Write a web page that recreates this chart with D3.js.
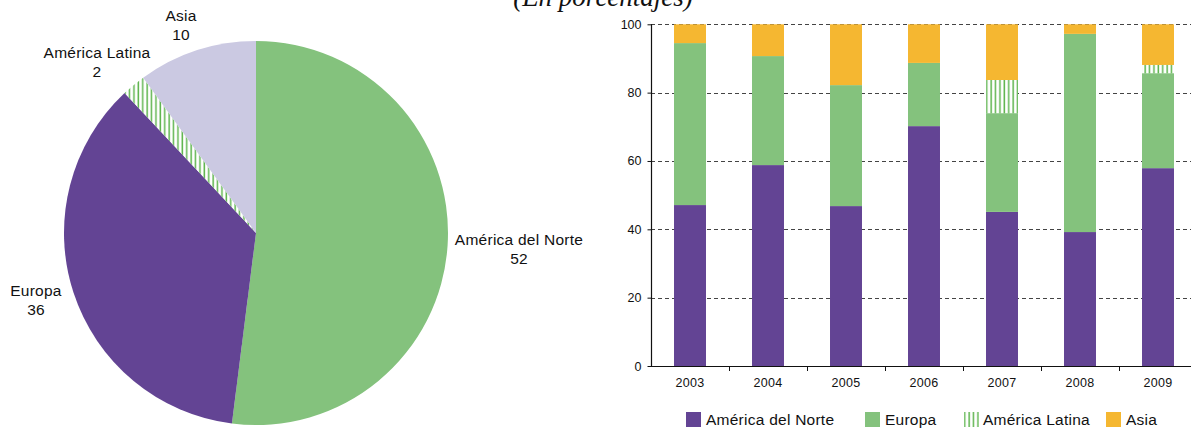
<!DOCTYPE html>
<html>
<head>
<meta charset="utf-8">
<script src="https://cdn.jsdelivr.net/npm/d3@7"></script>
<style>
  html, body { margin: 0; padding: 0; background: #fff; }
  svg { display: block; }
  text { font-family: "Liberation Sans", Arial, Helvetica, sans-serif; fill: #111; }
</style>
</head>
<body>
<svg id="chart" width="1191" height="428"></svg>
<script>
// ---------- data ----------
const title = "(En porcentajes)";

// pie (as drawn in the reference)
const pieLabels = ["América del Norte", "Europa", "América Latina", "Asia"];
const pieValues = [52, 36, 2, 10];

// stacked bars
const years = ["2003", "2004", "2005", "2006", "2007", "2008", "2009"];
const seriesNames = ["América del Norte", "Europa", "América Latina", "Asia"];
const norte  = [47.1, 58.8, 46.8, 70.2, 45.1, 39.2, 57.9];
const europa = [47.4, 31.9, 35.4, 18.5, 28.9, 58.0, 27.8];
const latina = [0, 0, 0, 0, 9.7, 0, 2.4];
const asia   = [5.5, 9.3, 17.8, 11.3, 16.3, 2.8, 11.9];
const yTicks = [0, 20, 40, 60, 80, 100];

// ---------- styles / layout ----------
const PURPLE = "#634494", GREEN = "#84c27d", YELLOW = "#f5b731", LAV = "#cbc9e2", HATCH = "#5fb54f";
const svg = d3.select("#chart");

const defs = svg.append("defs");
const pat = defs.append("pattern").attr("id", "hatch")
  .attr("patternUnits", "userSpaceOnUse").attr("width", 4.4).attr("height", 10);
pat.append("rect").attr("width", 4.4).attr("height", 10).attr("fill", "#fff");
pat.append("rect").attr("x", 0.4).attr("width", 1.5).attr("height", 10).attr("fill", HATCH);

// title (clipped at top, as in reference)
svg.append("text").attr("x", 603).attr("y", 6)
  .attr("text-anchor", "middle")
  .style("font-family", "'Liberation Serif', 'Times New Roman', serif")
  .style("font-style", "italic").style("font-size", "27px")
  .text(title);

// ---------- pie ----------
const pieFills = [GREEN, PURPLE, "url(#hatch)", LAV];
const cx = 256, cy = 233, R = 192;
const pie = d3.pie().sort(null).value(d => d)(pieValues);
const arc = d3.arc().innerRadius(0).outerRadius(R);
const gPie = svg.append("g").attr("transform", `translate(${cx},${cy})`);
gPie.selectAll("path").data(pie).join("path")
  .attr("d", arc).attr("fill", (d, i) => pieFills[i]);

const pieLabelPos = [[519, 245], [36, 296], [97, 58], [181, 21]];
pieLabels.forEach((lab, i) => {
  const t = svg.append("text").attr("text-anchor", "middle")
    .style("font-size", "15.5px").style("letter-spacing", "0.25px");
  t.append("tspan").attr("x", pieLabelPos[i][0]).attr("y", pieLabelPos[i][1]).text(lab);
  t.append("tspan").attr("x", pieLabelPos[i][0]).attr("y", pieLabelPos[i][1] + 18.5).text(pieValues[i]);
});

// ---------- stacked bar chart ----------
const x0 = 651, x1 = 1197, yTop = 24.3, yBot = 366;
const x = d3.scaleBand().domain(years).range([x0, x1]).paddingInner(0.59).paddingOuter(0.295);
const xs = d3.scaleBand().domain(years).range([x0, x1]);
const y = d3.scaleLinear().domain([0, 100]).range([yBot, yTop]);

const gGrid = svg.append("g");
gGrid.selectAll("line").data(yTicks.filter(v => v > 0)).join("line")
  .attr("x1", x0).attr("x2", 1191)
  .attr("y1", d => Math.round(y(d)) + 0.5).attr("y2", d => Math.round(y(d)) + 0.5)
  .attr("stroke", "#444").attr("stroke-width", 1).attr("stroke-dasharray", "4,3");

const rows = years.map((yr, i) => ({ year: yr, n: norte[i], e: europa[i], l: latina[i], a: asia[i] }));
const stack = d3.stack().keys(["n", "e", "l", "a"])(rows);
const barFills = [PURPLE, GREEN, "url(#hatch)", YELLOW];
svg.append("g").selectAll("g").data(stack).join("g")
  .attr("fill", (d, i) => barFills[i])
  .selectAll("rect").data(d => d).join("rect")
  .attr("x", d => x(d.data.year))
  .attr("width", x.bandwidth())
  .attr("y", d => y(d[1]))
  .attr("height", d => Math.max(0, y(d[0]) - y(d[1])));

// y axis
const yAxis = svg.append("g").attr("transform", `translate(${x0 + 0.5},0)`)
  .call(d3.axisLeft(y).tickValues(yTicks).tickSize(4).tickPadding(6));
yAxis.select(".domain").attr("d", `M0,${yTop}V${yBot}`).attr("stroke", "#111").attr("stroke-width", 1.2);
yAxis.selectAll("text").style("font-size", "12.5px").style("font-family", "'Liberation Sans', Arial, sans-serif").attr("fill", "#111");
yAxis.selectAll(".tick line").attr("stroke", "#111");

// x axis
const gx = svg.append("g");
gx.append("line").attr("x1", x0).attr("x2", 1191).attr("y1", yBot + 0.5).attr("y2", yBot + 0.5)
  .attr("stroke", "#111").attr("stroke-width", 1.2);
gx.selectAll("line.tk").data(years.slice(1)).join("line").attr("class", "tk")
  .attr("x1", d => xs(d) + 0.5).attr("x2", d => xs(d) + 0.5)
  .attr("y1", yBot).attr("y2", yBot + 5).attr("stroke", "#111");
gx.selectAll("text").data(years).join("text")
  .attr("x", d => x(d) + x.bandwidth() / 2).attr("y", 387)
  .attr("text-anchor", "middle").style("font-size", "12.5px").style("letter-spacing", "0.3px")
  .text(d => d);

// legend
const legendX = [686, 865, 964, 1106];
const legendFills = [PURPLE, GREEN, "url(#hatch)", YELLOW];
const lg = svg.append("g");
seriesNames.forEach((s, i) => {
  lg.append("rect").attr("x", legendX[i]).attr("y", 412).attr("width", 15).attr("height", 15)
    .attr("fill", legendFills[i]);
  lg.append("text").attr("x", legendX[i] + (i === 2 ? 19 : 20)).attr("y", 424.5)
    .style("font-size", "15.5px").style("letter-spacing", "0.25px").text(s);
});
</script>
</body>
</html>
